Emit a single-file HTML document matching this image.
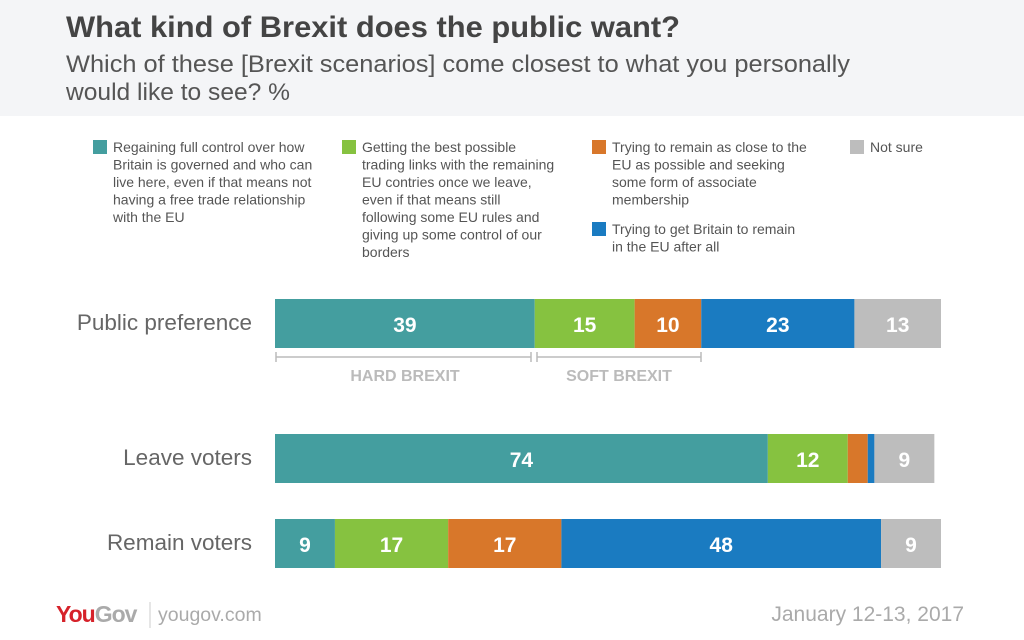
<!DOCTYPE html>
<html><head><meta charset="utf-8"><style>
body{margin:0;background:#fff;font-family:"Liberation Sans",sans-serif}
svg{display:block}
</style></head><body>
<svg width="1024" height="640" xmlns="http://www.w3.org/2000/svg" font-family="Liberation Sans, sans-serif">
<rect x="0" y="0" width="1024" height="116" fill="#f4f5f7"/>
<text x="66" y="37" font-size="30" font-weight="bold" fill="#444" textLength="614" lengthAdjust="spacingAndGlyphs">What kind of Brexit does the public want?</text>
<text x="66" y="72" font-size="24" fill="#555" textLength="784" lengthAdjust="spacingAndGlyphs">Which of these [Brexit scenarios] come closest to what you personally</text>
<text x="66" y="100" font-size="24" fill="#555" textLength="224" lengthAdjust="spacingAndGlyphs">would like to see? %</text>
<g id="legend" font-size="14" fill="#555"></g>
<g id="bars"></g>
<g stroke="#bbb" stroke-width="1.5" fill="none">
<path d="M276 352V362M276 357H531M531 352V362"/>
</g>
<g stroke="#bbb" stroke-width="1.5" fill="none">
<path d="M537 352V362M537 357H701M701 352V362"/>
</g>
<text x="405" y="381" font-size="16" fill="#bbb" text-anchor="middle" font-weight="bold">HARD BREXIT</text>
<text x="619" y="381" font-size="16" fill="#bbb" text-anchor="middle" font-weight="bold">SOFT BREXIT</text>
<text x="56" y="622" font-size="23" font-weight="bold" fill="#d6222a" letter-spacing="-1">You<tspan fill="#aaa">Gov</tspan></text>
<line x1="150" y1="602" x2="150" y2="628" stroke="#ccc"/>
<text x="158" y="621" font-size="19.5" fill="#aaa">yougov.com</text>
<text x="964" y="621" font-size="21" fill="#aaa" text-anchor="end">January 12-13, 2017</text>
</svg>
<script>
const categories=["Public preference","Leave voters","Remain voters"];
const seriesNames=["Hard","Soft","Associate","Remain","Not sure"];
const hardValues=[39,74,9];
const softValues=[15,12,17];
const assocValues=[10,3,17];
const remainValues=[23,1,48];
const notSureValues=[13,9,9];
const colors=["#449e9f","#86c240","#d8772a","#1a7bc1","#bdbdbd"];
const legendLines=[
["Regaining full control over how","Britain is governed and who can","live here, even if that means not","having a free trade relationship","with the EU"],
["Getting the best possible","trading links with the remaining","EU contries once we leave,","even if that means still","following some EU rules and","giving up some control of our","borders"],
["Trying to remain as close to the","EU as possible and seeking","some form of associate","membership"],
["Trying to get Britain to remain","in the EU after all"],
["Not sure"]];
const NS="http://www.w3.org/2000/svg";
const x0=275,scale=6.66,barH=49;
const rowY=[299,434,519];
const xs=v=>v*scale;
const series=[hardValues,softValues,assocValues,remainValues,notSureValues];
const bars=document.getElementById('bars');
categories.forEach((c,i)=>{
  const t=document.createElementNS(NS,'text');
  t.setAttribute('x',252);t.setAttribute('y',rowY[i]+31);
  t.setAttribute('text-anchor','end');t.setAttribute('font-size','22.5');t.setAttribute('fill','#666');
  t.textContent=c;
  
  
  bars.appendChild(t);
  let x=x0;
  series.forEach((s,k)=>{
    const v=s[i],w=xs(v);
    const r=document.createElementNS(NS,'rect');
    r.setAttribute('x',x);r.setAttribute('y',rowY[i]);r.setAttribute('width',w);r.setAttribute('height',barH);
    r.setAttribute('fill',colors[k]);
    
    
    bars.appendChild(r);
    if(v>=5){
      const l=document.createElementNS(NS,'text');
      l.setAttribute('x',x+w/2);l.setAttribute('y',rowY[i]+33);
      l.setAttribute('text-anchor','middle');l.setAttribute('font-size','21');l.setAttribute('font-weight','bold');l.setAttribute('fill','#fff');
      l.textContent=v;
      
      
      bars.appendChild(l);
    }
    x+=w;
  });
});
const lg=document.getElementById('legend');
const lpos=[[93,140],[342,140],[592,140],[592,222],[850,140]];
const legendColorIdx=[0,1,2,3,4];
lpos.forEach((p,i)=>{
  const g=document.createElementNS(NS,'g');
  
  
  const r=document.createElementNS(NS,'rect');
  r.setAttribute('x',p[0]);r.setAttribute('y',p[1]);r.setAttribute('width',14);r.setAttribute('height',14);
  r.setAttribute('fill',colors[legendColorIdx[i]]);
  g.appendChild(r);
  legendLines[i].forEach((ln,j)=>{
    const t=document.createElementNS(NS,'text');
    t.setAttribute('x',p[0]+20);t.setAttribute('y',p[1]+12+j*17.5);
    t.textContent=ln;g.appendChild(t);
  });
  lg.appendChild(g);
});
</script>
</body></html>
